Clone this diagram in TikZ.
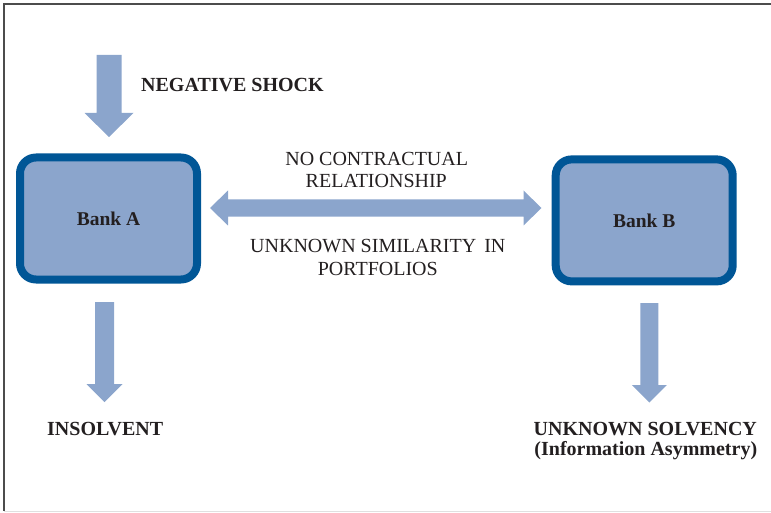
\documentclass[tikz,border=0pt]{standalone}
\usepackage{fontspec}
\setmainfont{Liberation Serif}
\definecolor{arrowblue}{RGB}{139,165,204}
\definecolor{boxedge}{RGB}{0,86,150}
\definecolor{txt}{RGB}{35,31,32}
\begin{document}
\begin{tikzpicture}[x=1pt,y=-1pt,
  lbl/.style={font=\fontsize{20}{22}\selectfont, text=txt, inner sep=0pt, anchor=base},
  blbl/.style={lbl, font=\fontsize{20}{22}\selectfont\bfseries},
  bank/.style={draw=boxedge, line width=8pt, fill=arrowblue, rounded corners=16pt,
    minimum width=177pt, minimum height=122pt, inner sep=0pt, text=txt,
    font=\fontsize{19.5}{21.5}\selectfont\bfseries},
  blockarrow/.style={fill=arrowblue, draw=none}]
\useasboundingbox (0,0) rectangle (771,513);
% frame
\draw[line width=1.3pt, color=black!70] (771,4) -- (4,4) -- (4,511);
\draw[line width=1pt, color=black!12] (4,511.8) -- (771,511.8);

% banks
\node[bank] (bankA) at (108.5,218.5) {Bank A};
\node[bank] (bankB) at (644.2,220.4) {Bank B};

% negative shock arrow
\coordinate (shockTop) at (109,55);
\coordinate (shockTip) at (109,137);
\path[blockarrow] (96.5,55) -- (121.5,55) -- (121.5,113) -- (133.5,113) -- (shockTip)
  -- (84.5,113) -- (96.5,113) -- cycle;

% double arrow between banks
\coordinate (dblL) at (210,208);
\coordinate (dblR) at (541.5,208);
\path[blockarrow] (dblL) -- (228,190.5) -- (228,199.3) -- (523.5,199.3) -- (523.5,190.5)
  -- (dblR) -- (523.5,225.5) -- (523.5,216.7) -- (228,216.7) -- (228,225.5) -- cycle;

% bank A down arrow
\coordinate (aTip) at (104.5,402);
\path[blockarrow] (95,302) -- (114,302) -- (114,384) -- (122.5,384) -- (aTip)
  -- (86.5,384) -- (95,384) -- cycle;

% bank B down arrow
\coordinate (bTip) at (649.3,402.5);
\path[blockarrow] (640.3,303) -- (658.3,303) -- (658.3,385) -- (666.8,385) -- (bTip)
  -- (631.8,385) -- (640.3,385) -- cycle;

% labels
\node[blbl, anchor=base west] (shock) at (141,91.7) {NEGATIVE SHOCK};
\node[lbl] (nc1) at (376.7,166) {NO CONTRACTUAL};
\node[lbl] (nc2) at (376.3,187.7) {RELATIONSHIP};
\node[lbl] (us1) at (377.8,252.3) {UNKNOWN SIMILARITY\hspace{3pt} IN};
\node[lbl] (us2) at (377.8,275) {PORTFOLIOS};
\node[blbl] (insolv) at (105.2,435.7) {INSOLVENT};
\node[blbl] (unk1) at (645.3,435.7) {UNKNOWN SOLVENCY};
\node[blbl] (unk2) at (645.8,455.7) {(Information Asymmetry)};
\end{tikzpicture}
\end{document}
